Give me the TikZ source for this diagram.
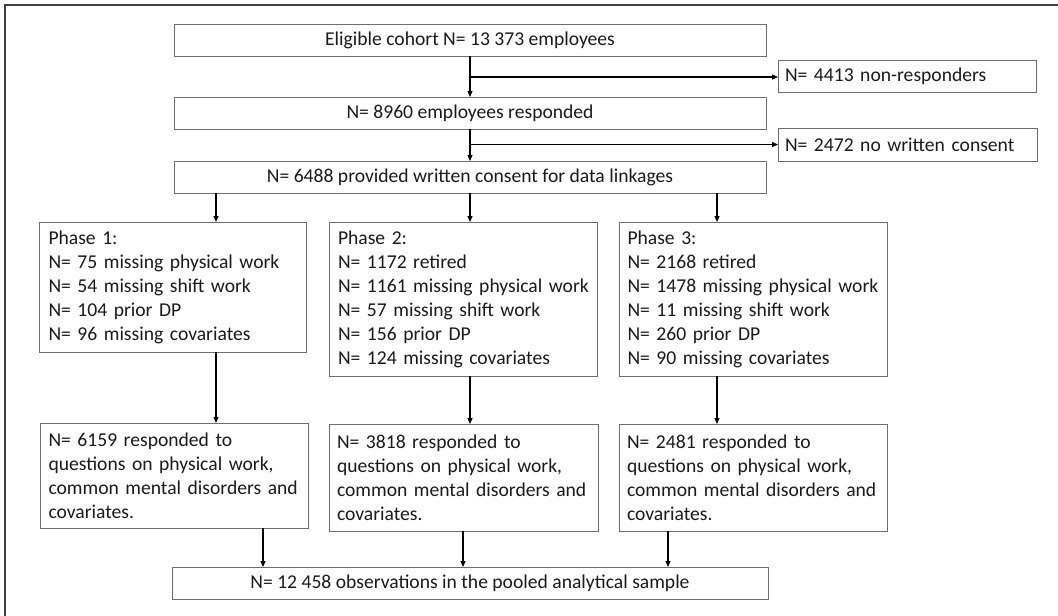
\documentclass[tikz,border=0pt]{standalone}
\usepackage{fontspec}
\setmainfont{Carlito}
\usetikzlibrary{arrows.meta}
\definecolor{boxgray}{HTML}{6E6E6E}
\definecolor{txt}{HTML}{1A1A1A}
\newcommand{\bxl}[1]{\mbox{#1}}
\begin{document}
\begin{tikzpicture}[x=1pt,y=-1pt,
  font=\fontsize{19.6}{24}\selectfont,
  box/.style={draw=boxgray, line width=1pt, inner xsep=8pt, inner ysep=0pt,
    text=txt, anchor=north west, outer sep=0pt},
  cbox/.style={box, align=center},
  lbox/.style={box, align=left},
  arr/.style={-{Triangle[length=6pt,width=5pt]}, line width=1.2pt, black},
  frameline/.style={line width=1.2pt, black!75}
]
\useasboundingbox (0,0) rectangle (1058,616);
\draw[frameline] (5,616) -- (5,5) -- (1058,5);

% top column
\node[cbox, minimum width=592pt, minimum height=32pt] (b1) at (174,24) {Eligible cohort N= 13 373 employees};
\node[cbox, minimum width=592pt, minimum height=32pt] (b2) at (174,97) {N= 8960 employees responded};
\node[cbox, minimum width=592pt, minimum height=32pt] (b3) at (174,161) {N= 6488 provided written consent for data linkages};
\node[lbox, inner xsep=7pt, text width=244pt, minimum height=32pt] (nr) at (778,60) {\bxl{N= 4413 non-responders}};
\node[lbox, inner xsep=7pt, text width=245pt, minimum height=33pt] (nc) at (778,128) {\bxl{N= 2472 no written consent}};

% phases
\node[lbox, inner xsep=9pt, text width=248.5pt, minimum height=130pt] (p1) at (39.5,222)
  {\bxl{Phase 1:}\\\bxl{N= 75 missing physical work}\\\bxl{N= 54 missing shift work}\\\bxl{N= 104 prior DP}\\\bxl{N= 96 missing covariates}};
\node[lbox, inner xsep=9pt, text width=250.5pt, minimum height=154pt] (p2) at (329,222)
  {\bxl{Phase 2:}\\\bxl{N= 1172 retired}\\\bxl{N= 1161 missing physical work}\\\bxl{N= 57 missing shift work}\\\bxl{N= 156 prior DP}\\\bxl{N= 124 missing covariates}};
\node[lbox, inner xsep=8.5pt, text width=251pt, minimum height=154pt] (p3) at (619,222)
  {\bxl{Phase 3:}\\\bxl{N= 2168 retired}\\\bxl{N= 1478 missing physical work}\\\bxl{N= 11 missing shift work}\\\bxl{N= 260 prior DP}\\\bxl{N= 90 missing covariates}};

% responders
\node[lbox, text width=251.5pt, minimum height=105pt] (r1) at (40.5,423)
  {\bxl{N= 6159 responded to}\\\bxl{questions on physical work,}\\\bxl{common mental disorders and}\\\bxl{covariates.}};
\node[lbox, text width=253pt, minimum height=107pt] (r2) at (329,424)
  {\bxl{N= 3818 responded to}\\\bxl{questions on physical work,}\\\bxl{common mental disorders and}\\\bxl{covariates.}};
\node[lbox, text width=252pt, minimum height=107pt] (r3) at (619,424)
  {\bxl{N= 2481 responded to}\\\bxl{questions on physical work,}\\\bxl{common mental disorders and}\\\bxl{covariates.}};

\node[cbox, minimum width=596pt, minimum height=32pt] (fin) at (172,567)
  {N= 12 458 observations in the pooled analytical sample};

% helper x positions
\coordinate (xa) at (216,0);
\coordinate (xb) at (470,0);
\coordinate (xc) at (717,0);
\coordinate (xd) at (263,0);
\coordinate (xe) at (463,0);
\coordinate (xf) at (668,0);
\coordinate (j1) at (470,77);
\coordinate (j2) at (470,144.5);

% connectors
\draw[arr] (b1.south -| xb) -- (b2.north -| xb);
\draw[arr] (j1) -- (nr.west |- j1);
\draw[arr] (b2.south -| xb) -- (b3.north -| xb);
\draw[arr] (j2) -- (nc.west |- j2);

\draw[arr] (b3.south -| xa) -- (p1.north -| xa);
\draw[arr] (b3.south -| xb) -- (p2.north -| xb);
\draw[arr] (b3.south -| xc) -- (p3.north -| xc);

\draw[arr] (p1.south -| xa) -- (r1.north -| xa);
\draw[arr] (p2.south -| xb) -- (r2.north -| xb);
\draw[arr] (p3.south -| xc) -- (r3.north -| xc);

\draw[arr] (r1.south -| xd) -- (fin.north -| xd);
\draw[arr] (r2.south -| xe) -- (fin.north -| xe);
\draw[arr] (r3.south -| xf) -- (fin.north -| xf);
\end{tikzpicture}
\end{document}
